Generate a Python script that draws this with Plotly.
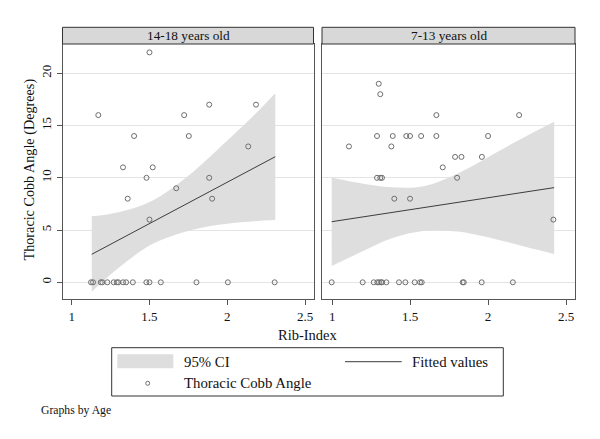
import plotly.graph_objects as go

W, H = 600, 439
FONT = "Liberation Serif"

panel_titles = ["14-18 years old", "7-13 years old"]

# 14-18 years old: Rib-Index vs Thoracic Cobb Angle
old_rib = [1.50, 1.171, 1.884, 2.185, 1.723, 1.401, 1.753, 2.135, 1.330, 1.521,
           1.481, 1.884, 1.672, 1.360, 1.903, 1.500,
           1.124, 1.137, 1.187, 1.197, 1.229, 1.270, 1.290, 1.300, 1.330, 1.350,
           1.393, 1.480, 1.500, 1.573, 1.802, 2.004, 2.305]
old_cobb = [22, 16, 17, 17, 16, 14, 14, 13, 11, 11,
            10, 10, 9, 8, 8, 6,
            0, 0, 0, 0, 0, 0, 0, 0, 0, 0,
            0, 0, 0, 0, 0, 0, 0]

# 7-13 years old
young_rib = [1.298, 1.308, 1.668, 2.199,
             1.287, 1.388, 1.475, 1.499, 1.570, 1.668, 2.000,
             1.107, 1.379, 1.788, 1.829, 1.960, 1.709,
             1.287, 1.308, 1.319, 1.801, 1.398, 1.499, 2.419,
             0.996, 1.195, 1.266, 1.289, 1.300, 1.313, 1.319, 1.347, 1.428, 1.469,
             1.529, 1.563, 1.574, 1.837, 1.844, 1.959, 2.159]
young_cobb = [19, 18, 16, 16,
              14, 14, 14, 14, 14, 14, 14,
              13, 13, 12, 12, 12, 11,
              10, 10, 10, 10, 8, 8, 6,
              0, 0, 0, 0, 0, 0, 0, 0, 0, 0,
              0, 0, 0, 0, 0, 0, 0]

# Fitted values and 95% CI
old_fit_x = [1.129, 2.309]
old_fit_y = [2.68, 12.02]
old_ci_x = [1.129, 1.30, 1.515, 1.73, 1.944, 2.159, 2.309]
old_ci_hi = [6.31, 6.70, 7.78, 9.95, 12.79, 15.79, 18.08]
old_ci_lo = [-0.90, 1.37, 3.63, 4.84, 5.51, 5.83, 5.96]

young_fit_x = [0.996, 2.424]
young_fit_y = [5.80, 9.06]
young_ci_x = [0.996, 1.167, 1.381, 1.595, 1.809, 2.024, 2.238, 2.424]
young_ci_hi = [10.04, 9.53, 9.09, 9.22, 10.43, 12.18, 13.94, 15.37]
young_ci_lo = [1.56, 2.77, 4.21, 4.94, 4.85, 4.21, 3.41, 2.71]

x_ticks = [1, 1.5, 2, 2.5]
x_tick_text = ["1", "1.5", "2", "2.5"]
y_ticks = [0, 5, 10, 15, 20]
y_tick_text = ["0", "5", "10", "15", "20"]

legend_labels = ["95% CI", "Fitted values", "Thoracic Cobb Angle"]
x_title = "Rib-Index"
y_title = "Thoracic Cobb Angle (Degrees)"
note = "Graphs by Age"

# ---------------- styles / layout geometry (pixels) ----------------
BAND = "#dedede"
MARK = "#6e6e6e"
LINE = "#3c3c3c"
FRAME = "#555555"
GRID = "#e4e4e4"
HEAD = "#d8d8d8"
TXT = "#111111"

def X(px):
    return px / W

def Y(py):
    return 1 - py / H

panels = [(62.5, 313.5), (322.0, 575.0)]
top, bottom = 44.0, 299.3
head_top = 27.3

fig = go.Figure()

datasets = [
    (old_rib, old_cobb, old_fit_x, old_fit_y, old_ci_x, old_ci_hi, old_ci_lo),
    (young_rib, young_cobb, young_fit_x, young_fit_y, young_ci_x, young_ci_hi, young_ci_lo),
]

for i, (rx, cy, fx, fy, cx, chi, clo) in enumerate(datasets):
    xa = "x" if i == 0 else "x2"
    ya = "y" if i == 0 else "y2"
    fig.add_trace(go.Scatter(x=cx, y=clo, mode="lines", line=dict(width=0, shape="spline", color=BAND),
                             xaxis=xa, yaxis=ya, showlegend=False, hoverinfo="skip"))
    fig.add_trace(go.Scatter(x=cx, y=chi, mode="lines", line=dict(width=0, shape="spline", color=BAND),
                             fill="tonexty", fillcolor=BAND,
                             xaxis=xa, yaxis=ya, showlegend=False, hoverinfo="skip"))
    fig.add_trace(go.Scatter(x=rx, y=cy, mode="markers",
                             marker=dict(symbol="circle-open", size=5, color=MARK, line=dict(width=1, color=MARK)),
                             xaxis=xa, yaxis=ya, showlegend=False))
    fig.add_trace(go.Scatter(x=fx, y=fy, mode="lines", line=dict(width=1, color=LINE),
                             xaxis=xa, yaxis=ya, showlegend=False))

y_range = [(282.3 - bottom) / 10.45, (282.3 - top) / 10.45]

def xrange_for(left, right, px1, px25):
    scale = (px25 - px1) / 1.5
    return [1 + (left - px1) / scale, 1 + (right - px1) / scale]

xr_left = xrange_for(62.5, 313.5, 71.7, 305.0)
xr_right = xrange_for(322.0, 575.0, 332.3, 566.0)

common_x = dict(showgrid=False, zeroline=False, showline=True, mirror=True, linecolor=FRAME, linewidth=1,
                ticks="outside", ticklen=5, tickcolor=FRAME, tickvals=x_ticks, ticktext=x_tick_text,
                tickfont=dict(family=FONT, size=13, color=TXT))
common_y = dict(showgrid=True, gridcolor=GRID, gridwidth=1, zeroline=False, showline=True, mirror=True,
                linecolor=FRAME, linewidth=1, range=y_range, tickvals=y_ticks)

fig.update_layout(
    width=W, height=H, margin=dict(l=0, r=0, t=0, b=0), autosize=False,
    paper_bgcolor="white", plot_bgcolor="white", showlegend=False,
    xaxis=dict(common_x, domain=[X(panels[0][0]), X(panels[0][1])], range=xr_left, anchor="y"),
    xaxis2=dict(common_x, domain=[X(panels[1][0]), X(panels[1][1])], range=xr_right, anchor="y2"),
    yaxis=dict(common_y, domain=[Y(bottom), Y(top)], anchor="x", ticks="outside", ticklen=5, tickcolor=FRAME,
               ticktext=y_tick_text, tickangle=-90, tickfont=dict(family=FONT, size=13, color=TXT)),
    yaxis2=dict(common_y, domain=[Y(bottom), Y(top)], anchor="x2", showticklabels=False, ticks=""),
)

shapes = []
annotations = []
for (l, r), title in zip(panels, panel_titles):
    shapes.append(dict(type="rect", xref="paper", yref="paper", x0=X(l), x1=X(r), y0=Y(top), y1=Y(head_top),
                       fillcolor=HEAD, line=dict(color="#333", width=1), layer="above"))
    annotations.append(dict(text=title, xref="paper", yref="paper", x=X((l + r) / 2), y=Y((top + head_top) / 2),
                            showarrow=False, xanchor="center", yanchor="middle",
                            font=dict(family=FONT, size=13.3, color=TXT)))

annotations.append(dict(text=x_title, xref="paper", yref="paper", x=X(307.5), y=Y(334.5), showarrow=False,
                        xanchor="center", yanchor="middle", font=dict(family=FONT, size=14.5, color=TXT)))
annotations.append(dict(text=y_title, xref="paper", yref="paper", x=X(28.5), y=Y(170), showarrow=False,
                        textangle=-90, xanchor="center", yanchor="middle",
                        font=dict(family=FONT, size=14.2, color=TXT)))

# legend box
shapes.append(dict(type="rect", xref="paper", yref="paper", x0=X(111.7), x1=X(503.3), y0=Y(396.0), y1=Y(347.7),
                   fillcolor="white", line=dict(color="#333", width=1)))
shapes.append(dict(type="rect", xref="paper", yref="paper", x0=X(117.3), x1=X(173.3), y0=Y(368.3), y1=Y(354.3),
                   fillcolor=BAND, line=dict(width=0)))
shapes.append(dict(type="line", xref="paper", yref="paper", x0=X(345.0), x1=X(401.7), y0=Y(361.7), y1=Y(361.7),
                   line=dict(color=LINE, width=1)))
shapes.append(dict(type="circle", xref="paper", yref="paper", x0=X(145.7), x1=X(149.7), y0=Y(385.3), y1=Y(381.3),
                   line=dict(color=MARK, width=1), fillcolor="white"))
for txt, px, py in [(legend_labels[0], 182.0, 362.3), (legend_labels[1], 409.5, 362.3), (legend_labels[2], 182.0, 383.3)]:
    annotations.append(dict(text=txt, xref="paper", yref="paper", x=X(px), y=Y(py), showarrow=False,
                            xanchor="left", yanchor="middle", font=dict(family=FONT, size=14.8, color=TXT)))

annotations.append(dict(text=note, xref="paper", yref="paper", x=X(38.8), y=Y(410.0), showarrow=False,
                        xanchor="left", yanchor="middle", font=dict(family=FONT, size=11.7, color=TXT)))

fig.update_layout(shapes=shapes, annotations=annotations)
fig.write_html("out.html", config={"displayModeBar": False},
               post_script="document.body.style.margin='0';document.body.style.overflow='hidden';")
